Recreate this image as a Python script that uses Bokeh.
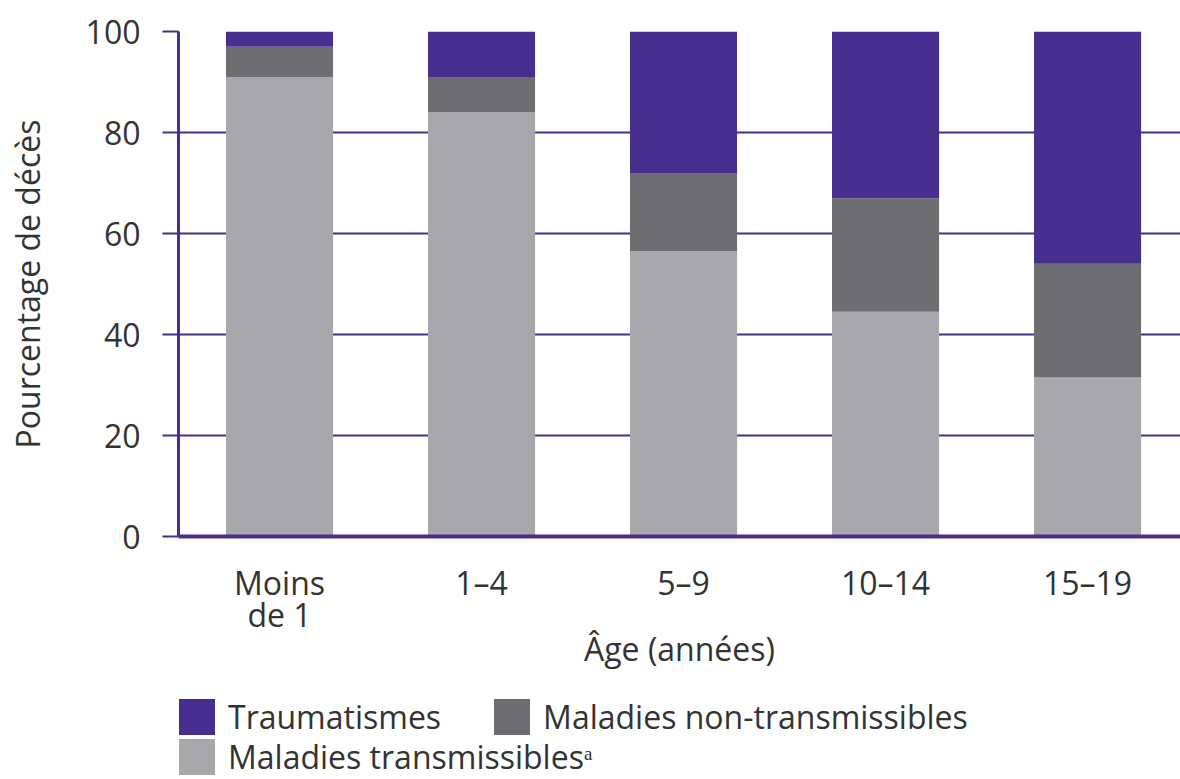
from bokeh.plotting import figure
from bokeh.models import (ColumnDataSource, Range1d, FixedTicker, Legend, LegendItem)
from bokeh.layouts import column
from bokeh.embed import file_html
from bokeh.resources import INLINE

# ---- data ----
categories = ["Moins\nde 1", "1–4", "5–9", "10–14", "15–19"]
transmissibles = [91, 84, 56.5, 44.5, 31.5]
non_transmissibles = [6, 7, 15.5, 22.5, 22.5]
traumatismes = [3, 9, 28, 33, 46]
series_names = ["Maladies transmissiblesᵃ", "Maladies non-transmissibles", "Traumatismes"]
y_ticks = [0, 20, 40, 60, 80, 100]

PURPLE = "#482e8e"
DARK = "#6d6e71"
LIGHT = "#a7a8ab"
TEXT = "#333333"
FONT = "Open Sans"

xs = list(range(len(categories)))
source = ColumnDataSource(dict(x=xs, trans=transmissibles, nontrans=non_transmissibles, trauma=traumatismes))
stack_cols = ["trans", "nontrans", "trauma"]
stack_colors = [LIGHT, DARK, PURPLE]

p = figure(width=1180, height=690, output_backend="svg", toolbar_location=None,
           x_range=Range1d(-0.5, 4.46), y_range=Range1d(0, 100),
           min_border_left=178, min_border_top=31, min_border_right=0,
           min_border_bottom=154)

p.vbar_stack(stack_cols, x="x", width=0.53, source=source,
             color=stack_colors, line_color=None)

p.outline_line_color = None
p.background_fill_color = "white"
p.border_fill_color = "white"

# grid
p.xgrid.grid_line_color = None
p.ygrid.ticker = FixedTicker(ticks=y_ticks)
p.ygrid.grid_line_color = PURPLE
p.ygrid.grid_line_width = 2

# y axis
p.yaxis.ticker = FixedTicker(ticks=y_ticks)
p.yaxis.axis_line_color = PURPLE
p.yaxis.axis_line_width = 3
p.yaxis.major_tick_line_color = PURPLE
p.yaxis.major_tick_line_width = 2
p.yaxis.major_tick_out = 16
p.yaxis.major_tick_in = 0
p.yaxis.minor_tick_line_color = None
p.yaxis.major_label_standoff = 22
p.yaxis.axis_label = "Pourcentage de décès"
p.yaxis.axis_label_standoff = 34

# x axis
p.xaxis.ticker = FixedTicker(ticks=xs)
p.xaxis.major_label_overrides = {i: c for i, c in enumerate(categories)}
p.xaxis.axis_line_color = PURPLE
p.xaxis.axis_line_width = 4
p.xaxis.major_tick_line_color = None
p.xaxis.minor_tick_line_color = None
p.xaxis.major_tick_out = 0
p.xaxis.major_tick_in = 0
p.xaxis.major_label_standoff = 24
p.xaxis.major_label_text_line_height = 0.75
p.xaxis.axis_label = "Âge (années)"
p.xaxis.axis_label_standoff = -12

for ax in (p.xaxis[0], p.yaxis[0]):
    ax.major_label_text_font = FONT
    ax.major_label_text_font_size = "32px"
    ax.major_label_text_color = TEXT
    ax.axis_label_text_font = FONT
    ax.axis_label_text_font_size = "32px"
    ax.axis_label_text_font_style = "normal"
    ax.axis_label_text_color = TEXT

# ---- legend strip ----
lf = figure(width=1180, height=89, output_backend="svg", toolbar_location=None,
            x_range=Range1d(0, 1), y_range=Range1d(0, 1),
            min_border=0, min_border_left=0, min_border_right=0,
            min_border_top=0, min_border_bottom=0)
lf.axis.visible = False
lf.grid.visible = False
lf.outline_line_color = None
lr = lf.vbar_stack(stack_cols, x="x", width=0.53, source=source,
                   color=stack_colors, line_color=None)
for r in lr:
    r.visible = False
r_trans, r_nontrans, r_trauma = lr

def make_legend(items, loc):
    return Legend(items=items, orientation="horizontal", location=loc,
                  glyph_width=45, glyph_height=45, label_standoff=9, spacing=48,
                  padding=0, margin=0, border_line_color=None,
                  background_fill_alpha=0,
                  label_text_font=FONT, label_text_font_size="32px",
                  label_text_color=TEXT, label_height=36)

legend1 = make_legend([LegendItem(label=series_names[2], renderers=[r_trauma]),
                       LegendItem(label=series_names[1], renderers=[r_nontrans])], (-4, 40))
legend2 = make_legend([LegendItem(label=series_names[0], renderers=[r_trans])], (-4, 0))
lf.add_layout(legend1, "center")
lf.add_layout(legend2, "center")

layout = column(p, lf, spacing=0)
open("out.html", "w").write(file_html(layout, INLINE))
